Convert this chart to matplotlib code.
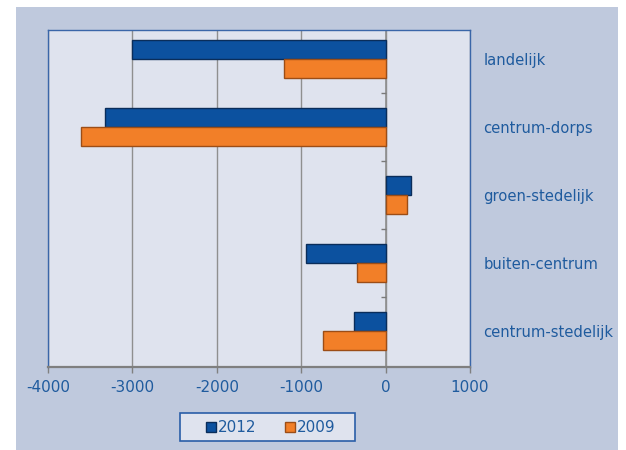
import matplotlib
matplotlib.use("Agg")
import matplotlib.pyplot as plt
from matplotlib.patches import Rectangle
import numpy as np

categories = ["landelijk", "centrum-dorps", "groen-stedelijk", "buiten-centrum", "centrum-stedelijk"]
vals_2012 = [-3000, -3320, 300, -940, -380]
vals_2009 = [-1200, -3610, 250, -340, -740]
xticks = [-4000, -3000, -2000, -1000, 0, 1000]

txt = "#1f5b9e"
blue = "#0c519f"; blue_edge = "#0a2d5a"
orange = "#f27f28"; orange_edge = "#9c4d16"
outer_bg = "#bfc9dd"; plot_bg = "#dfe3ee"

fig = plt.figure(figsize=(6.26, 4.5), dpi=100, facecolor="white")
# grey-blue chart area with a white margin around it
fig.add_artist(Rectangle((16/626, 0), (618-16)/626, (450-7)/450,
                         transform=fig.transFigure, facecolor=outer_bg,
                         edgecolor="none", zorder=-10))
# legend box
fig.add_artist(Rectangle((180/626, (450-441)/450), 175/626, 28/450,
                         transform=fig.transFigure, facecolor=plot_bg,
                         edgecolor="#2a5ea8", linewidth=1.2, zorder=-5))
ax = fig.add_axes([48/626, (450-367)/450, 422/626, 337/450])
ax.set_facecolor(plot_bg)

y = np.arange(len(categories))
h = 0.28
ax.barh(y - h/2, vals_2012, height=h, color=blue, edgecolor=blue_edge, linewidth=1.0, label="2012", zorder=3)
ax.barh(y + h/2, vals_2009, height=h, color=orange, edgecolor=orange_edge, linewidth=1.0, label="2009", zorder=3)

ax.set_xlim(-4000, 1000)
ax.set_ylim(4.53, -0.43)
ax.set_xticks(xticks)
ax.set_xticklabels([str(v) for v in xticks])
ax.xaxis.grid(True, color="#8f8f8f", linewidth=1.0, zorder=1)
ax.set_axisbelow(True)

# category labels on the right, no tick marks
ax.yaxis.tick_right()
ax.set_yticks(y)
ax.set_yticklabels(categories)
ax.tick_params(axis="y", length=0, pad=9.5, labelsize=10.6, labelcolor=txt)
ax.tick_params(axis="x", length=4, width=1, color="#808080", labelsize=11, labelcolor=txt, pad=5)

# vertical axis at zero with small ticks between categories
ax.axvline(0, color="#8f8f8f", linewidth=1.2, zorder=2)
bounds = y[:-1] + 0.5
ax.hlines(bounds, -60, 0, color="#7a7a7a", linewidth=1, zorder=2)

for s in ["top", "left", "right"]:
    ax.spines[s].set_color("#3a66a8")
    ax.spines[s].set_linewidth(1.0)
ax.spines["bottom"].set_color("#7f7f7f")
ax.spines["bottom"].set_linewidth(1.6)

leg = fig.legend(loc="center", bbox_to_anchor=(271/626, (450-428)/450), ncol=2,
                 fontsize=11, frameon=False, handlelength=0.6,
                 handleheight=0.6, handletextpad=0.15, columnspacing=1.9,
                 borderaxespad=0)
for t in leg.get_texts():
    t.set_color(txt)

fig.savefig("out.png", dpi=100, facecolor="white")
